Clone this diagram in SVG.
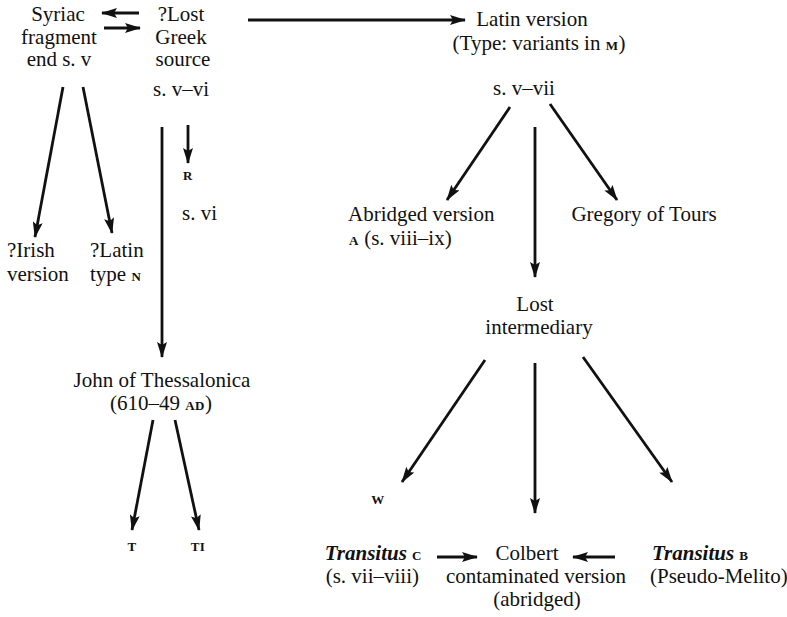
<svg xmlns="http://www.w3.org/2000/svg" width="787" height="617" viewBox="0 0 787 617">
<defs>
<marker id="ah" viewBox="0 0 16 10" refX="15" refY="5" markerWidth="16" markerHeight="10" markerUnits="userSpaceOnUse" orient="auto">
<path d="M0,0 L16,5 L0,10 L3,5 Z" fill="#111"/>
</marker>
<style>
text{font-family:"Liberation Serif","Times New Roman",serif;font-size:21px;fill:#111;text-anchor:middle}
.sc{font-size:13px;font-weight:bold;letter-spacing:0.5px}
.it{font-style:italic;font-weight:bold}
.l{text-anchor:start}
.r{text-anchor:end}
.c line{stroke:#111;stroke-width:2.8;marker-end:url(#ah)}
</style>
</defs>
<rect width="787" height="617" fill="#fff"/>
<g id="syriac"><text x="58" y="21">Syriac</text><text x="59" y="44">fragment</text><text x="59" y="66">end s. v</text></g>
<g id="greek"><text x="181" y="21">?Lost</text><text x="181" y="44">Greek</text><text x="183" y="66">source</text><text x="181" y="96">s. v–vi</text></g>
<g id="latin"><text x="532" y="26">Latin version</text><text x="539" y="50">(Type: variants in <tspan class="sc">M</tspan>)</text><text x="524" y="95">s. v–vii</text></g>
<g id="irish"><text class="l" x="7" y="257">?Irish</text><text class="l" x="7" y="281">version</text></g>
<g id="latinN"><text class="l" x="90" y="257">?Latin</text><text class="l" x="90" y="281">type <tspan class="sc">N</tspan></text></g>
<g id="R"><text class="sc" x="188" y="180">R</text><text class="l" x="182" y="220">s. vi</text></g>
<g id="john"><text x="162" y="387">John of Thessalonica</text><text x="161" y="410">(610–49 <tspan class="sc">AD</tspan>)</text></g>
<g id="T"><text class="sc" x="132" y="551">T</text></g>
<g id="TI"><text class="sc" x="198" y="551">TI</text></g>
<g id="abridged"><text class="l" x="348" y="221">Abridged version</text><text class="l" x="349" y="245"><tspan class="sc">A</tspan> (s. viii–ix)</text></g>
<g id="gregory"><text x="644" y="221">Gregory of Tours</text></g>
<g id="lost"><text x="535" y="311">Lost</text><text x="539" y="334">intermediary</text></g>
<g id="W"><text class="sc" x="378" y="504">W</text></g>
<g id="transC"><text class="r" x="422" y="560"><tspan class="it">Transitus</tspan> <tspan class="sc">C</tspan></text><text class="r" x="419" y="583">(s. vii–viii)</text></g>
<g id="colbert"><text x="527" y="560">Colbert</text><text x="536" y="583">contaminated version</text><text x="537" y="606">(abridged)</text></g>
<g id="transB"><text class="l" x="652" y="560"><tspan class="it">Transitus</tspan> <tspan class="sc">B</tspan></text><text class="l" x="650" y="583">(Pseudo-Melito)</text></g>
<g id="connectors" class="c">
<line x1="139" y1="13" x2="102" y2="13"/>
<line x1="104" y1="28" x2="140" y2="28"/>
<line x1="248" y1="20" x2="465" y2="20"/>
<line x1="63" y1="87" x2="35" y2="237"/>
<line x1="83" y1="87" x2="112" y2="233"/>
<line x1="162" y1="127" x2="162" y2="357"/>
<line x1="188" y1="125" x2="188" y2="163"/>
<line x1="153" y1="420" x2="132" y2="530"/>
<line x1="175" y1="420" x2="199" y2="530"/>
<line x1="510" y1="107" x2="447" y2="200"/>
<line x1="550" y1="104" x2="617" y2="200"/>
<line x1="535" y1="127" x2="535" y2="277"/>
<line x1="485" y1="360" x2="402" y2="482"/>
<line x1="535" y1="363" x2="535" y2="513"/>
<line x1="583" y1="357" x2="672" y2="482"/>
<line x1="437" y1="557" x2="477" y2="557"/>
<line x1="615" y1="557" x2="573" y2="557"/>
</g>
</svg>
